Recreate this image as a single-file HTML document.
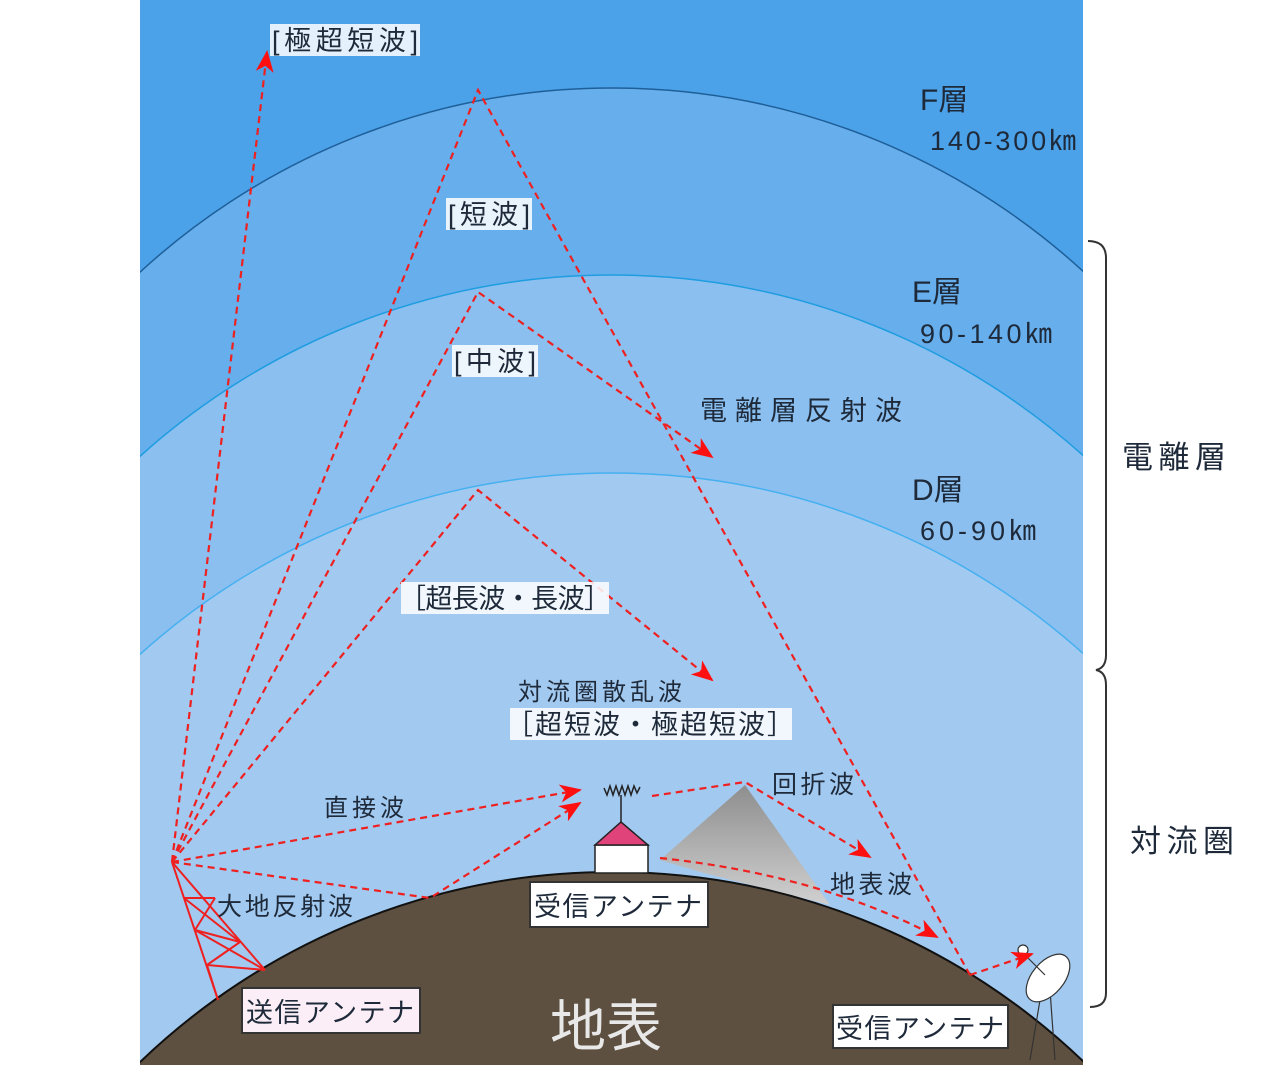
<!DOCTYPE html>
<html><head><meta charset="utf-8"><style>
html,body{margin:0;padding:0;background:#fff;width:1267px;height:1065px;overflow:hidden;}
svg{display:block;}
text{font-family:"Liberation Sans","Noto Sans CJK JP",sans-serif;fill:#1e2a3a;}
</style></head><body>
<svg width="1267" height="1065" viewBox="0 0 1267 1065" xmlns="http://www.w3.org/2000/svg">
<defs>
<clipPath id="c"><rect x="140" y="0" width="943" height="1065"/></clipPath>
<marker id="a" markerWidth="22" markerHeight="18" refX="20" refY="9" orient="auto" markerUnits="userSpaceOnUse" viewBox="0 0 22 18"><path d="M0,0 L22,9 L0,18 L6,9z" fill="#ff1010"/></marker>
<linearGradient id="m" x1="0" y1="0" x2="0" y2="1"><stop offset="0" stop-color="#8e8e8e"/><stop offset="1" stop-color="#d0d0d0"/></linearGradient>
</defs>
<g clip-path="url(#c)">
<rect x="140" y="0" width="943" height="1065" fill="#4ba2e8"/>
<circle cx="612" cy="785" r="697" fill="#66aeec" stroke="#1f5f99" stroke-width="1.5"/>
<circle cx="612" cy="980" r="705" fill="#8bbfef" stroke="#1e9de0" stroke-width="1.5"/>
<circle cx="612" cy="1178" r="705" fill="#a2c9f0" stroke="#45b0f0" stroke-width="1.5"/>
<polygon points="660,860 745,785 830,905 700,872" fill="url(#m)"/>
<circle cx="612" cy="1553" r="681" fill="#5e5040" stroke="#111" stroke-width="2"/>
</g>
<rect x="595" y="845" width="53" height="28" fill="#fff" stroke="#222" stroke-width="1.5"/>
<polygon points="595,845 621,822 648,845" fill="#e0427a" stroke="#222" stroke-width="1.5"/>
<line x1="621" y1="822" x2="621" y2="795" stroke="#222" stroke-width="1.5"/>
<polyline points="604,788 607,795 610,786 613,795 616,786 619,795 622,786 625,795 628,786 631,795 634,786 637,793 640,787" fill="none" stroke="#222" stroke-width="1.5"/>
<g stroke="#ee2020" stroke-width="2" fill="none">
<line x1="172" y1="862" x2="218" y2="1000"/>
<line x1="172" y1="862" x2="265" y2="970"/>
<line x1="184" y1="898" x2="215" y2="898"/>
<line x1="195" y1="930" x2="240" y2="942"/>
<line x1="207" y1="965" x2="265" y2="970"/>
<line x1="184" y1="898" x2="240" y2="942"/>
<line x1="215" y1="898" x2="195" y2="930"/>
<line x1="195" y1="930" x2="265" y2="970"/>
<line x1="240" y1="942" x2="207" y2="965"/>
<line x1="207" y1="965" x2="218" y2="1000"/>
</g>
<g stroke="#333" stroke-width="1.2" fill="#fff">
<line x1="1040" y1="1000" x2="1030" y2="1060"/><line x1="1050" y1="990" x2="1055" y2="1060"/>
<ellipse cx="1048" cy="978" rx="28" ry="16" transform="rotate(-50 1048 978)"/>
<line x1="1025" y1="955" x2="1045" y2="975"/>
<circle cx="1023" cy="950" r="5"/>
</g>
<g stroke="#ee2020" stroke-width="2.2" stroke-dasharray="7,5" fill="none">
<line x1="172" y1="862" x2="267" y2="52" marker-end="url(#a)"/>
<polyline points="172,862 478,90 970,975"/>
<polyline points="172,862 478,292 712,457" marker-end="url(#a)"/>
<polyline points="172,862 478,490 712,680" marker-end="url(#a)"/>
<line x1="172" y1="862" x2="580" y2="790" marker-end="url(#a)"/>
<polyline points="172,862 430,898 580,803" marker-end="url(#a)"/>
<polyline points="652,796 745,782 870,857" marker-end="url(#a)"/>
<path d="M660,858 Q820,875 937,937" marker-end="url(#a)"/>
<line x1="970" y1="975" x2="1032" y2="954" marker-end="url(#a)"/>
</g>
<g fill="#fff" fill-opacity="0.85">
<rect x="270" y="24" width="150" height="32"/>
<rect x="446" y="198" width="86" height="32"/>
<rect x="452" y="345" width="86" height="32"/>
<rect x="401" y="582" width="208" height="32"/>
<rect x="510" y="708" width="282" height="32"/>
</g>
<g font-size="27">
<text x="272" y="50" textLength="146">[極超短波]</text>
<text x="448" y="224" textLength="82">[短波]</text>
<text x="454" y="371" textLength="82">[中波]</text>
<text x="399" y="608" textLength="212">［超長波・長波］</text>
<text x="506" y="734" textLength="288">［超短波・極超短波］</text>
</g>
<g font-size="30">
<text x="920" y="110">F層</text>
<text x="912" y="302">E層</text>
<text x="912" y="500">D層</text>
</g>
<g font-size="27">
<text x="930" y="150" textLength="146">140-300㎞</text>
<text x="920" y="343" textLength="132">90-140㎞</text>
<text x="920" y="540" textLength="116">60-90㎞</text>
<text x="700" y="420" textLength="202">電離層反射波</text>
<text x="518" y="700" font-size="24" textLength="164">対流圏散乱波</text>
<text x="324" y="816" font-size="24" textLength="80">直接波</text>
<text x="217" y="915" font-size="25" textLength="136">大地反射波</text>
<text x="772" y="793" font-size="25" textLength="82">回折波</text>
<text x="830" y="893" font-size="25" textLength="82">地表波</text>
<text x="1122" y="468" font-size="31" textLength="104">電離層</text>
<text x="1130" y="852" font-size="31" textLength="104">対流圏</text>
</g>
<rect x="242" y="988" width="178" height="45" fill="#fbeef6" stroke="#333" stroke-width="2"/>
<text x="246" y="1022" font-size="27" textLength="168">送信アンテナ</text>
<rect x="530" y="882" width="178" height="45" fill="#fff" stroke="#333" stroke-width="2"/>
<text x="534" y="916" font-size="27" textLength="168">受信アンテナ</text>
<rect x="833" y="1005" width="175" height="43" fill="#fff" stroke="#333" stroke-width="2"/>
<text x="836" y="1038" font-size="27" textLength="168">受信アンテナ</text>
<text x="550" y="1046" font-size="56" style="fill:#e8e8e8">地表</text>
<path d="M1088,241 Q1106,241 1106,258 L1106,655 Q1106,668 1096,670 Q1106,672 1106,685 L1106,993 Q1106,1007 1090,1007" fill="none" stroke="#333" stroke-width="2"/>
</svg>
</body></html>
